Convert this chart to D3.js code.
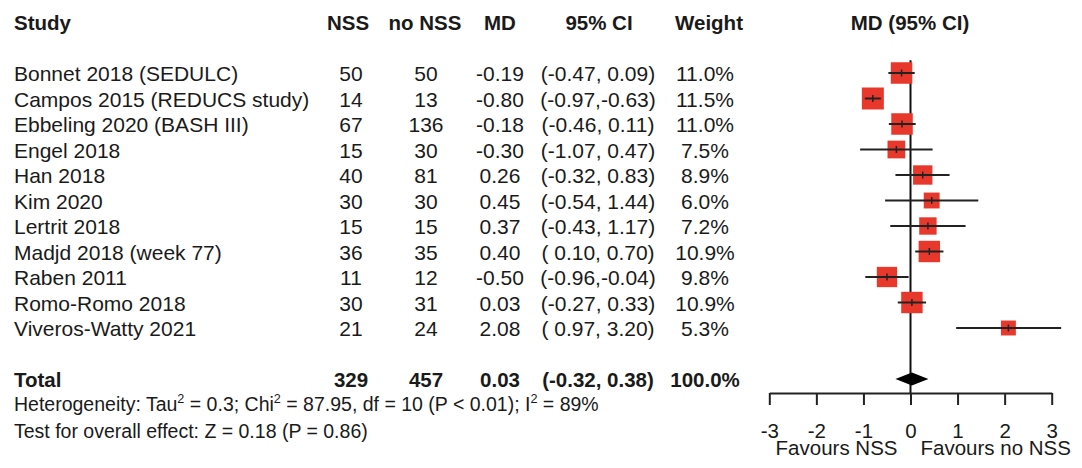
<!DOCTYPE html>
<html>
<head>
<meta charset="utf-8">
<script src="https://cdn.jsdelivr.net/npm/d3@7"></script>
<style>
  html, body { margin: 0; padding: 0; background: #fff; }
  svg { display: block; }
  text { font-family: "Liberation Sans", Arial, Helvetica, sans-serif; fill: #1a1a1a; white-space: pre; }
</style>
</head>
<body>
<script>
// ---- data ----
const studies = ["Bonnet 2018 (SEDULC)", "Campos 2015 (REDUCS study)", "Ebbeling 2020 (BASH III)", "Engel 2018", "Han 2018", "Kim 2020", "Lertrit 2018", "Madjd 2018 (week 77)", "Raben 2011", "Romo-Romo 2018", "Viveros-Watty 2021"];
const nNSS   = [50, 14, 67, 15, 40, 30, 15, 36, 11, 30, 21];
const nNoNSS = [50, 13, 136, 30, 81, 30, 15, 35, 12, 31, 24];
const md     = [-0.19, -0.80, -0.18, -0.30, 0.26, 0.45, 0.37, 0.40, -0.50, 0.03, 2.08];
const ciLow  = [-0.47, -0.97, -0.46, -1.07, -0.32, -0.54, -0.43, 0.10, -0.96, -0.27, 0.97];
const ciHigh = [0.09, -0.63, 0.11, 0.47, 0.83, 1.44, 1.17, 0.70, -0.04, 0.33, 3.20];
const weight = [11.0, 11.5, 11.0, 7.5, 8.9, 6.0, 7.2, 10.9, 9.8, 10.9, 5.3];
const total = { label: "Total", nNSS: 329, nNoNSS: 457, md: 0.03, lo: -0.32, hi: 0.38, weight: 100.0 };
const headers = ["Study", "NSS", "no NSS", "MD", "95% CI", "Weight", "MD (95% CI)"];
const tickValues = [-3, -2, -1, 0, 1, 2, 3];
const labelLeft = "Favours NSS";
const labelRight = "Favours no NSS";
const hetParts = [["Heterogeneity: Tau", false], ["2", true], [" = 0.3; Chi", false], ["2", true], [" = 87.95, df = 10 (P < 0.01); I", false], ["2", true], [" = 89%", false]];
const testText = "Test for overall effect: Z = 0.18 (P = 0.86)";

// ---- layout ----
const W = 1082, H = 468;
const FS = 20.5, FSR = 21, FSB = 19.5;
const svg = d3.select("body").append("svg").attr("width", W).attr("height", H);
svg.append("rect").attr("width", W).attr("height", H).attr("fill", "#fff");

const row = d3.scaleLinear().domain([0, 1]).range([73, 98.5]);
const x = d3.scaleLinear().domain([-3, 3]).range([769.3, 1051.7]);
const size = d3.scaleSqrt().domain([0, 11]).range([0, 21.5]);
const axisY = 393;

const col = { study: 14, nss: 351, nonss: 426, md: 500, ci: 598, w: 705 };
const hcol = { study: 14, nss: 348, nonss: 425, md: 500, ci: 599, w: 709, plot: 910 };

const fmt2 = v => v.toFixed(2);
const pad5 = v => fmt2(v).padStart(5, " ");
const ciStr = (l, h) => "(" + pad5(l) + "," + pad5(h) + ")";

// headers
const hy = row(-2) + 7.5;
const hg = svg.append("g").attr("font-weight", "bold").attr("font-size", FS);
hg.append("text").attr("x", hcol.study).attr("y", hy).text(headers[0]);
[[hcol.nss, 1], [hcol.nonss, 2], [hcol.md, 3], [hcol.ci, 4], [hcol.w, 5], [hcol.plot, 6]].forEach(([cx, i]) => {
  hg.append("text").attr("x", cx).attr("y", hy).attr("text-anchor", "middle").text(headers[i]);
});

// study rows
const rows = svg.append("g").attr("font-size", FSR);
studies.forEach((s, i) => {
  const y = row(i) + 8;
  rows.append("text").attr("x", col.study).attr("y", y).text(s);
  rows.append("text").attr("x", col.nss).attr("y", y).attr("text-anchor", "middle").text(nNSS[i]);
  rows.append("text").attr("x", col.nonss).attr("y", y).attr("text-anchor", "middle").text(nNoNSS[i]);
  rows.append("text").attr("x", col.md).attr("y", y).attr("text-anchor", "middle").text(fmt2(md[i]));
  rows.append("text").attr("x", col.ci).attr("y", y).attr("text-anchor", "middle").text(ciStr(ciLow[i], ciHigh[i]));
  rows.append("text").attr("x", col.w).attr("y", y).attr("text-anchor", "middle").text(weight[i].toFixed(1) + "%");
});

// total row
const ty = row(12) + 7.5;
const tg = svg.append("g").attr("font-size", FS).attr("font-weight", "bold");
tg.append("text").attr("x", col.study).attr("y", ty).text(total.label);
tg.append("text").attr("x", col.nss).attr("y", ty).attr("text-anchor", "middle").text(total.nNSS);
tg.append("text").attr("x", col.nonss).attr("y", ty).attr("text-anchor", "middle").text(total.nNoNSS);
tg.append("text").attr("x", col.md).attr("y", ty).attr("text-anchor", "middle").text(fmt2(total.md));
tg.append("text").attr("x", col.ci).attr("y", ty).attr("text-anchor", "middle").text(ciStr(total.lo, total.hi));
tg.append("text").attr("x", col.w).attr("y", ty).attr("text-anchor", "middle").text(total.weight.toFixed(1) + "%");

// heterogeneity and test
const het = svg.append("text").attr("x", 14).attr("y", 411).attr("font-size", FSB);
hetParts.forEach(([t, sup]) => {
  const ts = het.append("tspan").text(t);
  if (sup) ts.attr("font-size", FSB * 0.65).attr("dy", -8);
  else if (t !== hetParts[0][0]) ts.attr("dy", 8);
});
svg.append("text").attr("x", 14).attr("y", 437.5).attr("font-size", FSB).text(testText);

// forest plot
const plot = svg.append("g");
plot.append("line")
  .attr("x1", x(0)).attr("x2", x(0))
  .attr("y1", row(-0.5)).attr("y2", axisY)
  .attr("stroke", "#111").attr("stroke-width", 2);

plot.selectAll("rect.sq").data(md).enter().append("rect")
  .attr("class", "sq")
  .attr("x", (d, i) => x(d) - size(weight[i]) / 2)
  .attr("y", (d, i) => row(i) - size(weight[i]) / 2)
  .attr("width", (d, i) => size(weight[i]))
  .attr("height", (d, i) => size(weight[i]))
  .attr("fill", "#e8382b");

plot.selectAll("line.ci").data(md).enter().append("line")
  .attr("class", "ci")
  .attr("x1", (d, i) => x(ciLow[i])).attr("x2", (d, i) => x(ciHigh[i]))
  .attr("y1", (d, i) => row(i)).attr("y2", (d, i) => row(i))
  .attr("stroke", "#222").attr("stroke-width", 2);

plot.selectAll("line.pt").data(md).enter().append("line")
  .attr("class", "pt")
  .attr("x1", d => x(d)).attr("x2", d => x(d))
  .attr("y1", (d, i) => row(i) - 3.5).attr("y2", (d, i) => row(i) + 3.5)
  .attr("stroke", "#222").attr("stroke-width", 1.5);

const dy0 = row(12);
plot.append("path")
  .attr("d", `M${x(total.lo)},${dy0} L${x(total.md)},${dy0 - 6.5} L${x(total.hi)},${dy0} L${x(total.md)},${dy0 + 6.5} Z`)
  .attr("fill", "#000");

// axis
const axis = d3.axisBottom(x).tickValues(tickValues).tickSize(12).tickSizeOuter(0).tickPadding(18)
  .tickFormat(d => String(d));
const ag = svg.append("g").attr("transform", `translate(0,${axisY})`).call(axis);
ag.select(".domain").attr("stroke", "#222").attr("stroke-width", 2);
ag.selectAll(".tick line").attr("stroke", "#222").attr("stroke-width", 2);
ag.selectAll(".tick text").attr("font-size", FS).attr("font-family", "Liberation Sans, Arial, sans-serif").attr("fill", "#1a1a1a");

// favours labels
svg.append("text").attr("x", x(0) - 13).attr("y", 455).attr("font-size", FS).attr("text-anchor", "end").text(labelLeft);
svg.append("text").attr("x", x(0) + 10).attr("y", 455).attr("font-size", FS).text(labelRight);
</script>
</body>
</html>
